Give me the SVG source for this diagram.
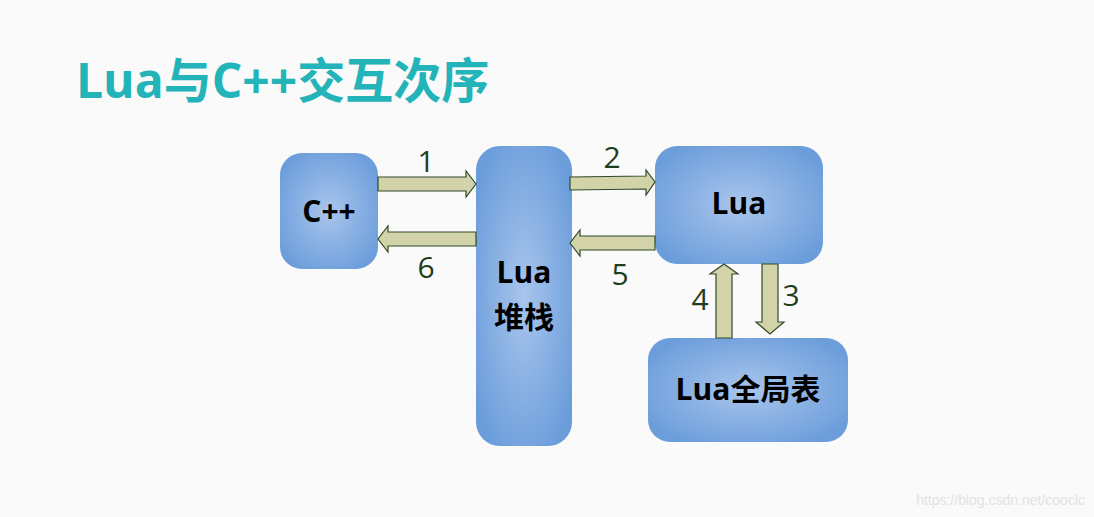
<svg xmlns="http://www.w3.org/2000/svg" width="1094" height="517" viewBox="0 0 1094 517">
<defs>
<radialGradient id="g" cx="50%" cy="50%" r="60%"><stop offset="0" stop-color="#a9c5ec"/><stop offset="1" stop-color="#6b9ddb"/></radialGradient>
<style>
.n{fill:url(#g)}
.t{font-family:"Open Sans","Noto Sans CJK SC",sans-serif;font-weight:bold;fill:#000;text-anchor:middle}
.a{fill:#d3d3a9;stroke:#2e4a2a;stroke-width:1.2}
.l{font-family:"Open Sans",sans-serif;font-size:30px;fill:#1e3f1e;text-anchor:middle}
</style>
</defs>
<rect width="1094" height="517" fill="#fafafa"/>
<text x="76" y="98" font-family="'Open Sans','Noto Sans CJK SC',sans-serif" font-weight="bold" font-size="48" fill="#22b4b8">Lua与C++交互次序</text>
<g id="cpp"><rect class="n" x="280" y="153" width="98" height="116" rx="22"/><text class="t" x="329" y="222" font-size="30">C++</text></g>
<g id="stack"><rect class="n" x="476" y="146" width="96" height="300" rx="24"/><text class="t" x="524" y="283" font-size="30">Lua</text><text class="t" x="524" y="328" font-size="30">堆栈</text></g>
<g id="lua"><rect class="n" x="655" y="146" width="168" height="118" rx="22"/><text class="t" x="739" y="214" font-size="30">Lua</text></g>
<g id="global"><rect class="n" x="648" y="338" width="200" height="104" rx="22"/><text class="t" x="748" y="400" font-size="30">Lua全局表</text></g>
<g id="connectors">
<path class="a" d="M378,177 H466 V171 L476,184 L466,197 V191 H378 Z"/>
<text class="l" x="426" y="172">1</text>
<path class="a" d="M476,232 H388 V226 L378,239 L388,252 V246 H476 Z"/>
<text class="l" x="426" y="278">6</text>
<path class="a" d="M570,177 L646,176 V170 L655,182 L646,195 V189 L570,190 Z"/>
<text class="l" x="612" y="168">2</text>
<path class="a" d="M655,236 H580 V230 L570,243 L580,256 V250 H655 Z"/>
<text class="l" x="620" y="285">5</text>
<path class="a" d="M716,338 V274 H710 L724,264 L738,274 H732 V338 Z"/>
<text class="l" x="700" y="310">4</text>
<path class="a" d="M762,264 V322 H756 L770,334 L784,322 H778 V264 Z"/>
<text class="l" x="791" y="306">3</text>
</g>
<text x="1085" y="505" font-family="'Liberation Sans',sans-serif" font-size="14" fill="#e2e2e2" text-anchor="end">https://blog.csdn.net/cooclc</text>
</svg>
